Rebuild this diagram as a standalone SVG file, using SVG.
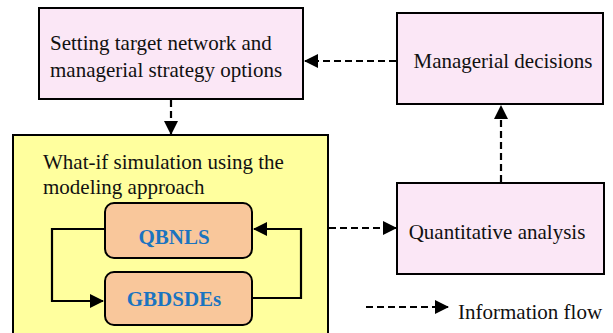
<svg xmlns="http://www.w3.org/2000/svg" width="613" height="333" viewBox="0 0 613 333">
  <style>
    .box { fill: #fbe7f6; stroke: #000; stroke-width: 2; }
    .sim { fill: #ffff9e; stroke: #000; stroke-width: 2; }
    .model { fill: #f9c79b; stroke: #000; stroke-width: 2; }
    .t { font-family: "Liberation Serif", "Times New Roman", serif; font-size: 21px; fill: #111; }
    .m { font-family: "Liberation Serif", "Times New Roman", serif; font-size: 21px; font-weight: bold; fill: #1b74c0; }
    .info { fill: none; stroke: #000; stroke-width: 2.2; stroke-dasharray: 7 4; }
    .solid { fill: none; stroke: #000; stroke-width: 2.2; }
  </style>
  <defs>
    <marker id="head" markerWidth="14" markerHeight="14" refX="13" refY="7" orient="auto" markerUnits="userSpaceOnUse" viewBox="0 0 14 14">
      <path d="M0,0 L14,7 L0,14 z" fill="#000"/>
    </marker>
  </defs>
  <rect width="613" height="333" fill="#fff"/>

  <g id="setting-target">
    <rect class="box" x="39" y="8" width="264" height="91"/>
    <text class="t" x="50" y="50">Setting target network and</text>
    <text class="t" x="50" y="77">managerial strategy options</text>
  </g>

  <g id="managerial-decisions">
    <rect class="box" x="397" y="13" width="206" height="91"/>
    <text class="t" x="503" y="68" text-anchor="middle">Managerial decisions</text>
  </g>

  <g id="what-if-simulation">
    <rect class="sim" x="13" y="135" width="315" height="210"/>
    <text class="t" x="43" y="169">What-if simulation using the</text>
    <text class="t" x="43" y="194">modeling approach</text>
  </g>

  <g id="qbnls">
    <rect class="model" x="105" y="203" width="147" height="55" rx="9"/>
    <text class="m" x="174" y="244" text-anchor="middle">QBNLS</text>
  </g>

  <g id="gbdsdes">
    <rect class="model" x="105" y="272" width="147" height="53" rx="9"/>
    <text class="m" x="174" y="306" text-anchor="middle">GBDSDEs</text>
  </g>

  <g id="quantitative-analysis">
    <rect class="box" x="397" y="183" width="207" height="91"/>
    <text class="t" x="497" y="239" text-anchor="middle">Quantitative analysis</text>
  </g>

  <g id="legend">
    <line class="info" x1="366" y1="307" x2="448" y2="307" marker-end="url(#head)"/>
    <text class="t" x="458" y="319">Information flow</text>
  </g>

  <g id="connectors">
    <line class="info" x1="396" y1="61" x2="305" y2="61" marker-end="url(#head)"/>
    <line class="info" x1="171" y1="100" x2="171" y2="134" marker-end="url(#head)"/>
    <line class="info" x1="329" y1="228" x2="396" y2="228" marker-end="url(#head)"/>
    <line class="info" x1="501" y1="182" x2="501" y2="106" marker-end="url(#head)"/>
    <polyline class="solid" points="105,229 52,229 52,301 103,301" marker-end="url(#head)"/>
    <polyline class="solid" points="252,298 301,298 301,229 254,229" marker-end="url(#head)"/>
  </g>
</svg>
